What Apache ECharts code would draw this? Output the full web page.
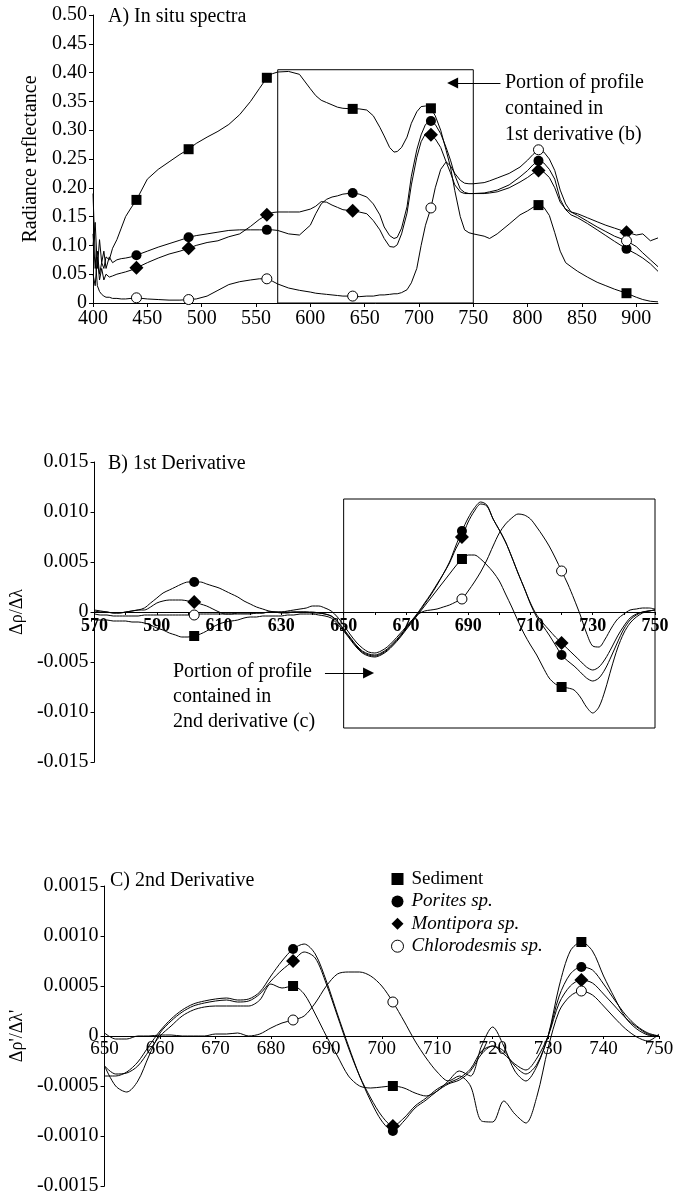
<!DOCTYPE html>
<html><head><meta charset="utf-8">
<script src="https://cdn.jsdelivr.net/npm/echarts@6/dist/echarts.min.js"></script>
<style>html,body{margin:0;padding:0;background:#fff}#c{width:678px;height:1198px}</style>
</head><body><div id="c"></div>
<script>
const FONT = '"Liberation Serif","Times New Roman",serif';
const seriesNames = ['Sediment', 'Porites sp.', 'Montipora sp.', 'Chlorodesmis sp.'];

// ---------- Panel A: in situ spectra ----------
const wlA = [400,402,404,406,408,410,412,415,418,422,426,430,435,440,450,460,470,480,488,495,505,515,525,535,545,553,560,565,570,580,590,600,605,610,615,620,625,630,639,645,652,658,664,668,673,677,680,684,689,693,698,702,706,711,715,720,725,729,733,738,742,746,750,760,765,772,783,793,800,805,810,815,820,825,830,835,840,846,855,864,872,880,891,900,906,913,920];
const sedA = [0.12,0.06,0.09,0.05,0.07,0.06,0.08,0.075,0.095,0.11,
  0.13,0.15,0.165,0.179,0.215,0.232,0.245,0.258,0.267,0.277,
  0.288,0.298,0.31,0.327,0.35,0.372,0.391,0.398,0.401,0.402,
  0.397,0.372,0.36,0.352,0.348,0.344,0.34,0.338,0.337,0.337,
  0.335,0.325,0.305,0.29,0.27,0.262,0.263,0.27,0.288,0.312,
  0.332,0.341,0.342,0.338,0.325,0.3,0.265,0.236,0.195,0.15,
  0.127,0.122,0.12,0.116,0.112,0.12,0.137,0.153,0.16,0.166,
  0.17,0.166,0.152,0.122,0.09,0.07,0.063,0.055,0.045,0.036,
  0.03,0.024,0.017,0.01,0.006,0.003,0.002];
const porA = [0.10,0.14,0.06,0.11,0.07,0.09,0.06,0.08,0.07,0.075,
  0.077,0.078,0.08,0.083,0.09,0.097,0.103,0.109,0.114,0.117,
  0.12,0.123,0.126,0.127,0.127,0.127,0.127,0.127,0.126,0.12,
  0.118,0.135,0.155,0.172,0.18,0.184,0.186,0.189,0.191,0.189,
  0.184,0.172,0.153,0.132,0.117,0.112,0.114,0.13,0.167,0.22,
  0.266,0.292,0.31,0.316,0.31,0.294,0.27,0.248,0.222,0.198,
  0.192,0.19,0.19,0.191,0.193,0.196,0.205,0.219,0.23,0.24,
  0.247,0.243,0.232,0.215,0.18,0.162,0.153,0.148,0.138,0.127,
  0.117,0.107,0.094,0.085,0.078,0.068,0.055];
const monA = [0.05,0.03,0.08,0.04,0.06,0.04,0.05,0.045,0.047,0.05,
  0.052,0.054,0.057,0.061,0.07,0.078,0.085,0.09,0.095,0.1,
  0.105,0.108,0.115,0.12,0.133,0.145,0.153,0.157,0.158,0.158,
  0.158,0.163,0.168,0.176,0.175,0.17,0.166,0.162,0.16,0.158,
  0.155,0.143,0.127,0.112,0.098,0.097,0.101,0.12,0.156,0.205,
  0.253,0.28,0.294,0.292,0.285,0.27,0.245,0.226,0.205,0.193,
  0.19,0.19,0.19,0.19,0.191,0.193,0.2,0.21,0.218,0.225,
  0.23,0.227,0.218,0.2,0.175,0.163,0.158,0.155,0.148,0.141,
  0.135,0.13,0.123,0.118,0.12,0.108,0.113];
const chlA = [0.19,0.08,0.03,0.02,0.015,0.012,0.01,0.01,0.008,0.008,
  0.007,0.007,0.008,0.009,0.007,0.006,0.005,0.005,0.006,0.007,
  0.012,0.022,0.032,0.037,0.04,0.042,0.042,0.038,0.033,0.026,
  0.022,0.019,0.017,0.016,0.015,0.014,0.013,0.012,0.012,0.011,
  0.012,0.012,0.014,0.014,0.015,0.016,0.016,0.018,0.023,0.035,
  0.06,0.1,0.135,0.165,0.2,0.232,0.245,0.238,0.225,0.213,
  0.208,0.207,0.207,0.209,0.212,0.217,0.225,0.236,0.248,0.258,
  0.266,0.262,0.25,0.23,0.196,0.172,0.158,0.152,0.142,0.132,
  0.124,0.116,0.108,0.098,0.087,0.075,0.063];
const markA = [440,488,560,639,711,810,891];
const boxA = [570, 0.405, 750, 0];          // portion shown in B
const arrowA = [775, 731, 0.382];           // tail x, head x, y

// ---------- Panel B: 1st derivative ----------
const wlB = [570,572,574,576,578,580,582,584,586,588,590,592,594,596,598,600,602,604,606,608,610,612,614,616,618,620,622,624,626,628,630,632,634,636,638,640,642,644,646,648,650,652,654,656,658,660,662,664,666,668,670,672,674,676,678,680,682,684,686,688,690,692,694,696,698,700,702,704,706,708,710,712,714,716,718,720,722,724,726,728,730,732,734,736,738,740,742,744,746,748,750];
const sedB = [-0.0008,-0.0008,-0.0008,-0.0009,-0.0009,-0.0009,-0.001,-0.001,-0.0011,-0.0013,
  -0.0016,-0.0018,-0.0021,-0.0023,-0.0025,-0.0025,-0.0024,-0.0022,-0.0019,-0.0015,
  -0.0012,-0.001,-0.0009,-0.0008,-0.0006,-0.0005,-0.0005,-0.0004,-0.0004,-0.0004,
  -0.0004,-0.0003,-0.0003,-0.0002,-0.0002,-0.0002,-0.0003,-0.0004,-0.0006,-0.0012,
  -0.0019,-0.0027,-0.0035,-0.0041,-0.0044,-0.0045,-0.0043,-0.0039,-0.0033,-0.0026,
  -0.0018,-0.001,-0.0002,0.0006,0.0014,0.0022,0.003,0.0038,0.0046,0.0053,
  0.0057,0.0057,0.0053,0.0047,0.004,0.0031,0.0018,0.0005,-0.0009,-0.0022,
  -0.0033,-0.0043,-0.0055,-0.0066,-0.0072,-0.0075,-0.0076,-0.0078,-0.0085,-0.0095,
  -0.0101,-0.0095,-0.0078,-0.0056,-0.0036,-0.0021,-0.0011,-0.0005,-0.0001,0.0001,
  0.0002];
const porB = [0.0001,0,0,-0.0001,-0.0001,0,0.0001,0.0002,0.0004,0.0009,
  0.0014,0.0019,0.0022,0.0025,0.0028,0.003,0.003,0.003,0.0028,0.0026,
  0.0024,0.0021,0.0018,0.0015,0.0011,0.0008,0.0005,0.0003,0.0001,0,
  -0.0001,-0.0001,0,0,0,0,-0.0001,-0.0002,-0.0004,-0.001,
  -0.0018,-0.0026,-0.0034,-0.004,-0.0043,-0.0044,-0.0042,-0.0038,-0.0032,-0.0025,
  -0.0017,-0.0009,-0.0001,0.0008,0.0017,0.0027,0.0038,0.005,0.0066,0.0081,
  0.0094,0.0104,0.011,0.0107,0.0093,0.0082,0.007,0.0055,0.0039,0.0024,
  0.0008,-0.0005,-0.0014,-0.0023,-0.0033,-0.0043,-0.0049,-0.0054,-0.006,-0.0066,
  -0.0069,-0.0066,-0.0057,-0.0044,-0.003,-0.0017,-0.0008,-0.0003,0,0.0001,
  0.0002];
const monB = [0.0002,0.0001,0,-0.0001,-0.0001,0,0.0001,0.0002,0.0002,0.0005,
  0.0009,0.0011,0.0012,0.0012,0.0012,0.0011,0.001,0.0008,0.0006,0.0003,
  0,-0.0002,-0.0002,-0.0002,-0.0002,-0.0002,-0.0001,-0.0001,0,0,
  0,0,0,0,0,-0.0001,-0.0001,-0.0002,-0.0004,-0.0009,
  -0.0017,-0.0025,-0.0033,-0.0039,-0.0042,-0.0043,-0.0041,-0.0037,-0.0031,-0.0024,
  -0.0016,-0.0008,0,0.0009,0.0018,0.0028,0.0038,0.0049,0.0063,0.0075,
  0.009,0.0101,0.0108,0.0106,0.0093,0.0082,0.007,0.0055,0.0039,0.0024,
  0.0009,-0.0003,-0.0011,-0.0018,-0.0025,-0.0031,-0.0037,-0.0043,-0.0049,-0.0055,
  -0.0058,-0.0055,-0.0047,-0.0036,-0.0024,-0.0014,-0.0006,-0.0002,0,0.0001,
  0.0002];
const chlB = [-0.0002,-0.0003,-0.0003,-0.0004,-0.0004,-0.0004,-0.0004,-0.0004,-0.0003,-0.0003,
  -0.0003,-0.0003,-0.0003,-0.0003,-0.0003,-0.0003,-0.0003,-0.0002,-0.0002,-0.0002,
  -0.0002,-0.0002,-0.0002,-0.0001,-0.0001,-0.0001,-0.0001,-0.0001,0,0,
  0,0.0001,0.0002,0.0003,0.0004,0.0006,0.0006,0.0004,0.0001,-0.0005,
  -0.0013,-0.0022,-0.003,-0.0036,-0.004,-0.0041,-0.0039,-0.0035,-0.0029,-0.0022,
  -0.0015,-0.0008,-0.0002,0.0001,0.0002,0.0003,0.0005,0.0007,0.001,0.0013,
  0.0021,0.003,0.004,0.0052,0.0066,0.0079,0.0088,0.0094,0.0098,0.0097,
  0.0093,0.0085,0.0076,0.0066,0.0054,0.0041,0.0028,0.0013,-0.0003,-0.0021,
  -0.0034,-0.0035,-0.0027,-0.0016,-0.0007,-0.0002,0.0002,0.0003,0.0004,0.0004,
  0.0003];
const markB = [602, 688, 720];
const boxB = [650, 0.0113, 750, -0.0116];   // portion shown in C
const arrowB = [644, 658, -0.0061];         // tail x, head x, y

// ---------- Panel C: 2nd derivative ----------
const wlC = [650,652,654,656,658,660,662,664,666,668,670,672,674,676,678,680,682,684,686,688,690,692,694,696,698,700,702,704,706,708,710,712,714,716,718,720,722,724,726,728,730,732,734,736,738,740,742,744,746,748,750];
const sedC = [-0.0003,-0.00038,-0.00037,-0.0003,-0.00015,0,0.0001,0.0002,0.00026,0.00029,
  0.0003,0.0003,0.0003,0.0003,0.00036,0.00052,0.00048,0.0005,0.00042,0.00022,
  0,-0.0002,-0.0004,-0.0005,-0.00052,-0.00051,-0.0005,-0.00052,-0.00057,-0.0006,
  -0.00055,-0.00045,-0.00035,-0.0004,-0.0001,0.00009,-0.0001,-0.00035,-0.00045,-0.0003,
  0,0.0005,0.00085,0.00094,0.00085,0.0006,0.00038,0.00018,0.00007,0.00001,
  0];
const porC = [-0.0004,-0.0004,-0.00036,-0.00026,-0.0001,0.00005,0.00017,0.00026,0.00032,0.00035,
  0.00037,0.00038,0.00036,0.00037,0.00044,0.0006,0.00075,0.00087,0.00092,0.00082,
  0.00055,0.00022,-0.0001,-0.0004,-0.00065,-0.00085,-0.00095,-0.00085,-0.00072,-0.00064,
  -0.00055,-0.00048,-0.00044,-0.00035,-0.00018,-0.0001,-0.00015,-0.0003,-0.00038,-0.00028,
  0,0.0004,0.00062,0.00069,0.00066,0.00052,0.00036,0.00021,0.0001,0.00003,
  0];
const monC = [-0.0003,-0.0005,-0.00056,-0.00045,-0.0002,0.00003,0.00015,0.00024,0.0003,0.00033,
  0.00035,0.00036,0.00034,0.00035,0.00042,0.00055,0.00066,0.00075,0.00084,0.00078,
  0.00052,0.0002,-0.00012,-0.0004,-0.00062,-0.0008,-0.0009,-0.00082,-0.0007,-0.00062,
  -0.00053,-0.00047,-0.00042,-0.00033,-0.00015,-0.0001,-0.00018,-0.00028,-0.00034,-0.00022,
  0,0.00033,0.0005,0.00056,0.00053,0.00042,0.0003,0.00018,0.00009,0.00002,
  0];
const chlC = [0.00003,-0.00003,-0.00003,0,0,0.00001,0.00001,0,0,0,
  0.00002,0.00002,0.00003,0,0.00002,0.00008,0.00013,0.00016,0.0002,0.00033,
  0.0005,0.00062,0.00064,0.00064,0.0006,0.0005,0.00034,0.00015,-0.00005,-0.00022,
  -0.00036,-0.00045,-0.0004,-0.0005,-0.00085,-0.00086,-0.00065,-0.00078,-0.00087,-0.0006,
  -0.00012,0.00025,0.0004,0.00045,0.00041,0.0003,0.00018,0.00007,-0.00001,-0.00005,
  0.00002];
const markC = [684, 702, 736];

// ---------- build ----------
const SYM = [
  {symbol: 'rect', size: 10},
  {symbol: 'circle', size: 10},
  {symbol: 'diamond', size: 14},
  {symbol: 'circle', size: 10}
];
function mk(g, wl, vals, marks, k, smooth) {
  const data = wl.map((x, i) => marks.indexOf(x) >= 0
    ? {value: [x, vals[i]]}
    : {value: [x, vals[i]], symbol: 'none'});
  return {
    type: 'line', name: seriesNames[k], xAxisIndex: g, yAxisIndex: g, data: data,
    symbol: SYM[k].symbol, symbolSize: SYM[k].size, showSymbol: true, showAllSymbol: true,
    smooth: smooth, lineStyle: {color: '#000', width: 1},
    itemStyle: k === 3 ? {color: '#fff', borderColor: '#000', borderWidth: 1} : {color: '#000'},
    emphasis: {disabled: true}, silent: true, z: 3
  };
}
const lab = (extra) => Object.assign({color: '#000', fontFamily: FONT, fontSize: 20}, extra || {});
const axLine = {show: true, onZero: false, lineStyle: {color: '#000', width: 1}};
const axTick = {show: true, length: 4, lineStyle: {color: '#000', width: 1}};

const series = [];
[sedA, porA, monA, chlA].forEach((v, k) => series.push(mk(0, wlA, v, markA, k, false)));
[sedB, porB, monB, chlB].forEach((v, k) => series.push(mk(1, wlB, v, markB, k, 0.3)));
[sedC, porC, monC, chlC].forEach((v, k) => series.push(mk(2, wlC, v, markC, k, 0.3)));

function boxAndArrow(box, arrow) {
  return {
    markArea: {silent: true, label: {show: false},
      itemStyle: {color: 'rgba(0,0,0,0)', borderColor: '#000', borderWidth: 1},
      data: [[{xAxis: box[0], yAxis: box[1]}, {xAxis: box[2], yAxis: box[3]}]]},
    markLine: {silent: true, symbol: ['none', 'triangle'], symbolSize: 11, label: {show: false},
      lineStyle: {color: '#000', width: 1.2, type: 'solid'},
      data: [[{coord: [arrow[0], arrow[2]]}, {coord: [arrow[1], arrow[2]]}]]}
  };
}
Object.assign(series[0], boxAndArrow(boxA, arrowA));
Object.assign(series[4], boxAndArrow(boxB, arrowB));

const option = {
  animation: false,
  backgroundColor: '#fff',
  grid: [
    {left: 93, right: 20, top: 15, height: 288},
    {left: 89, right: 23, top: 462, height: 300},
    {left: 93, right: 19, top: 886, height: 300}
  ],
  xAxis: [
    {gridIndex: 0, type: 'value', min: 400, max: 920, interval: 50,
      axisLine: axLine, axisTick: axTick, splitLine: {show: false},
      axisLabel: lab({margin: 6, showMaxLabel: false})},
    {gridIndex: 1, type: 'value', min: 570, max: 750, interval: 10, offset: -150,
      axisLine: axLine, axisTick: {show: true, length: 3, lineStyle: {color: '#000'}}, splitLine: {show: false},
      axisLabel: lab({margin: 5, fontSize: 18, fontWeight: 'bold',
        formatter: v => ((Math.round(v) - 570) % 20 === 0 ? String(Math.round(v)) : '')})},
    {gridIndex: 2, type: 'value', min: 650, max: 750, interval: 10, offset: -150,
      axisLine: axLine, axisTick: {show: true, length: 3, lineStyle: {color: '#000'}}, splitLine: {show: false},
      axisLabel: lab({margin: 4, fontSize: 19})}
  ],
  yAxis: [
    {gridIndex: 0, type: 'value', min: 0, max: 0.5, interval: 0.05,
      name: 'Radiance reflectance', nameLocation: 'middle', nameGap: 52,
      nameTextStyle: lab(),
      axisLine: axLine, axisTick: axTick, splitLine: {show: false},
      axisLabel: lab({margin: 6, formatter: v => (Math.abs(v) < 1e-9 ? '0' : v.toFixed(2))})},
    {gridIndex: 1, type: 'value', min: -0.015, max: 0.015, interval: 0.005,
      name: 'Δρ/Δλ', nameLocation: 'middle', nameGap: 58,
      nameTextStyle: lab({fontSize: 18}),
      axisLine: axLine, axisTick: axTick, splitLine: {show: false},
      axisLabel: lab({margin: 6, formatter: v => (Math.abs(v) < 1e-9 ? '0' : v.toFixed(3))})},
    {gridIndex: 2, type: 'value', min: -0.0015, max: 0.0015, interval: 0.0005,
      name: "Δρ'/Δλ'", nameLocation: 'middle', nameGap: 62,
      nameTextStyle: lab({fontSize: 18}),
      axisLine: axLine, axisTick: axTick, splitLine: {show: false},
      axisLabel: lab({margin: 6, formatter: v => (Math.abs(v) < 1e-9 ? '0' : v.toFixed(4))})}
  ],
  legend: {
    orient: 'vertical', left: 386, top: 864, itemWidth: 12, itemHeight: 12, itemGap: 2.4,
    selectedMode: false,
    data: [
      {name: 'Sediment', icon: 'rect', itemStyle: {color: '#000'}},
      {name: 'Porites sp.', icon: 'circle', itemStyle: {color: '#000'}},
      {name: 'Montipora sp.', icon: 'diamond', itemStyle: {color: '#000'}},
      {name: 'Chlorodesmis sp.', icon: 'circle', itemStyle: {color: '#fff', borderColor: '#000', borderWidth: 1}}
    ],
    formatter: n => (n === 'Sediment' ? n : '{i|' + n + '}'),
    textStyle: {color: '#000', fontFamily: FONT, fontSize: 19, lineHeight: 20, padding: [0, 0, 0, 3],
      rich: {i: {fontStyle: 'italic', fontFamily: FONT, fontSize: 19, color: '#000'}}}
  },
  graphic: [
    {type: 'text', x: 108, y: 7, style: {text: 'A) In situ spectra', fontFamily: FONT, fontSize: 20, fill: '#000'}},
    {type: 'text', x: 108, y: 454, style: {text: 'B) 1st Derivative', fontFamily: FONT, fontSize: 20, fill: '#000'}},
    {type: 'text', x: 110, y: 871, style: {text: 'C) 2nd Derivative', fontFamily: FONT, fontSize: 20, fill: '#000'}},
    {type: 'text', x: 505, y: 70, style: {text: 'Portion of profile\ncontained in\n1st derivative (b)', fontFamily: FONT, fontSize: 20, lineHeight: 26, fill: '#000'}},
    {type: 'text', x: 173, y: 659, style: {text: 'Portion of profile\ncontained in\n2nd derivative (c)', fontFamily: FONT, fontSize: 20, lineHeight: 25, fill: '#000'}}
  ],
  series: series
};
const chart = echarts.init(document.getElementById('c'), null, {renderer: 'canvas'});
chart.setOption(option);
</script>
</body></html>
